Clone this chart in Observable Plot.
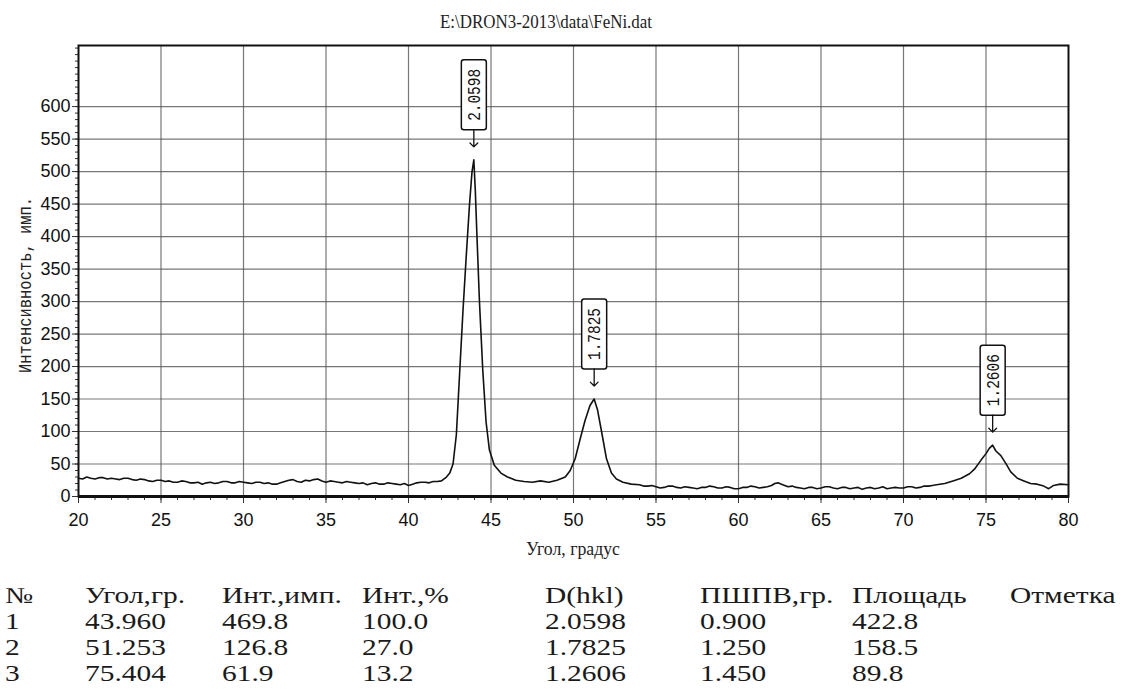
<!DOCTYPE html>
<html><head><meta charset="utf-8">
<script src="https://cdn.jsdelivr.net/npm/d3@7"></script>
<script src="https://cdn.jsdelivr.net/npm/@observablehq/plot@0.6"></script>
<style>
html,body{margin:0;padding:0;background:#fff;}
#wrap{position:relative;width:1126px;height:699px;overflow:hidden;background:#fff;}
#chart{position:absolute;left:0;top:0;}
#overlay{position:absolute;left:0;top:0;pointer-events:none;}
</style></head><body>
<div id="wrap"><div id="chart"></div><svg id="overlay" width="1126" height="699"></svg></div>
<script>
// ---- scan curve, [angle, intensity] pairs ----
const scanLow = [
 [20,28],[20.25,27],[20.5,30],[20.75,28],[21,27],[21.25,29],[21.5,29],[21.75,27],[22,28],[22.25,27],
 [22.5,26],[22.75,28],[23,28],[23.25,26],[23.5,25],[23.75,27],[24,26],[24.25,24],[24.5,23],[24.75,25],
 [25,25],[25.25,23],[25.5,24],[25.75,22],[26,22],[26.25,24],[26.5,23],[26.75,21],[27,21],[27.25,22],
 [27.5,19],[27.75,21],[28,22],[28.25,20],[28.5,21],[28.75,23],[29,23],[29.25,21],[29.5,21],[29.75,23],
 [30,22],[30.25,21],[30.5,20],[30.75,22],[31,22],[31.25,20],[31.5,21],[31.75,19],[32,19],[32.25,21],
 [32.5,23],[32.75,25],[33,26],[33.25,23],[33.5,22],[33.75,25],[34,24],[34.25,26],[34.5,27],[34.75,24],
 [35,22],[35.25,24],[35.5,23],[35.75,22],[36,21],[36.25,23],[36.5,22],[36.75,21],[37,20],[37.25,21],
 [37.5,18],[37.75,20],[38,21],[38.25,19],[38.5,19],[38.75,21],[39,20],[39.25,19],[39.5,18],[39.75,20],
 [40,17],[40.25,19],[40.5,21],[40.75,22],[41,22],[41.25,21],[41.5,23],[41.75,23],[42,24]];
const scanPeak1 = [
 [42.3,30],[42.5,36],[42.7,50],[42.9,95],[43.1,190],[43.3,285],[43.5,370],[43.7,450],[43.85,500],[43.96,518],
 [44.05,470],[44.15,400],[44.3,300],[44.5,195],[44.7,115],[44.9,72],[45.2,48],[45.6,36],[46,30],[46.5,25],
 [47,23],[47.5,22],[48,24],[48.5,22],[49,25]];
const scanPeak2 = [
 [49.5,30],[49.8,40],[50.1,58],[50.4,88],[50.7,117],[51,140],[51.25,150],[51.45,134],[51.7,100],[52,58],
 [52.3,36],[52.6,27],[53,22],[53.5,19]];
const scanMid = [
 [54,18],[54.25,16],[54.5,16],[54.75,17],[55,15],[55.25,13],[55.5,14],[55.75,16],[56,16],[56.25,14],
 [56.5,13],[56.75,15],[57,14],[57.25,13],[57.5,12],[57.75,14],[58,14],[58.25,16],[58.5,15],[58.75,13],
 [59,13],[59.25,15],[59.5,14],[59.75,12],[60,12],[60.25,14],[60.5,14],[60.75,16],[61,15],[61.25,13],
 [61.5,14],[61.75,15],[62,17],[62.2,20],[62.4,21],[62.6,19],[62.8,17],[63,15],[63.25,16],[63.5,14],
 [63.75,13],[64,12],[64.25,14],[64.5,14],[64.75,12],[65,13],[65.25,15],[65.5,15],[65.75,13],[66,12],
 [66.25,14],[66.5,14],[66.75,12],[67,13],[67.25,14],[67.5,11],[67.75,13],[68,14],[68.25,12],[68.5,13],
 [68.75,15],[69,12],[69.25,13],[69.5,14],[69.75,13],[70,13],[70.25,15],[70.5,15],[70.75,13],[71,14],
 [71.25,16],[71.5,16],[71.75,17],[72,18]];
const scanPeak3 = [
 [72.5,20],[73,24],[73.5,28],[74,35],[74.3,42],[74.7,56],[75,66],[75.2,74],[75.4,79],[75.6,70],
 [75.9,63],[76.2,51],[76.5,38],[76.9,28],[77.3,24],[77.7,20],[78.1,19],[78.5,16],[78.8,12],[79.1,17],
 [79.5,19],[80,18]];

// ---- peak table ----
const peakNo = [1, 2, 3];
const peakAngle = [43.960, 51.253, 75.404];
const peakImp = [469.8, 126.8, 61.9];
const peakPct = [100.0, 27.0, 13.2];
const peakD = ["2.0598", "1.7825", "1.2606"];
const peakFwhm = [0.900, 1.250, 1.450];
const peakArea = [422.8, 158.5, 89.8];
const peakTop = [518, 150, 79]; // top of drawn curve at each peak
const tableHeaders = ["№", "Угол,гр.", "Инт.,имп.", "Инт.,%", "D(hkl)", "ПШПВ,гр.", "Площадь", "Отметка"];

// ---- ticks ----
const xTicks = d3.range(20, 81, 5);
const xMinor = d3.range(20, 81, 1);
const yTicks = d3.range(0, 601, 50);
const yMinor = d3.range(0, 691, 10);
const xGrid = d3.range(25, 80, 5);
const yGrid = d3.range(50, 601, 50);

const titleText = "E:\\DRON3-2013\\data\\FeNi.dat";
const xLabel = "Угол, градус";
const yLabel = "Интенсивность, имп.";

const data = [].concat(scanLow, scanPeak1, scanPeak2, scanMid, scanPeak3).map(([a, v]) => ({a, v}));
const peaks = peakAngle.map((a, i) => ({a, top: peakTop[i], d: peakD[i]}));

const boxSymbol = {draw(ctx) {
  const w = 12.5, h = 35, r = 2.5;
  ctx.moveTo(-w + r, -h); ctx.lineTo(w - r, -h); ctx.arcTo(w, -h, w, -h + r, r);
  ctx.lineTo(w, h - r); ctx.arcTo(w, h, w - r, h, r);
  ctx.lineTo(-w + r, h); ctx.arcTo(-w, h, -w, h - r, r);
  ctx.lineTo(-w, -h + r); ctx.arcTo(-w, -h, -w + r, -h, r); ctx.closePath();
}};

const chart = Plot.plot({
  width: 1126, height: 560,
  marginTop: 45, marginLeft: 78, marginRight: 58, marginBottom: 64,
  x: {domain: [20, 80]},
  y: {domain: [0, 694]},
  style: {fontFamily: "'Liberation Sans', Arial, sans-serif", fontSize: "18px", color: "#111", background: "#fff", overflow: "visible"},
  marks: [
    Plot.ruleX(xGrid, {stroke: "#555", strokeOpacity: 0.8, strokeWidth: 1.2}),
    Plot.ruleY(yGrid, {stroke: "#555", strokeOpacity: 0.8, strokeWidth: 1.2}),
    Plot.axisX({ticks: xMinor, tickSize: 4, tickFormat: () => "", label: null, stroke: "#333"}),
    Plot.axisX({ticks: xTicks, tickSize: 7, tickPadding: 10, label: null, stroke: "#333"}),
    Plot.axisY({ticks: yMinor, tickSize: 3, tickFormat: () => "", label: null, stroke: "#333"}),
    Plot.axisY({ticks: yTicks, tickSize: 6, tickPadding: 2, label: null, stroke: "#333"}),
    Plot.line(data, {x: "a", y: "v", stroke: "#111", strokeWidth: 1.6}),
    Plot.frame({stroke: "#111", strokeWidth: 2}),
    Plot.ruleY([0], {stroke: "#111", strokeWidth: 3}),
    Plot.dot(peaks, {x: "a", y: "top", dy: -65, symbol: boxSymbol, fill: "white", stroke: "#111", strokeWidth: 1.5}),
    Plot.text(peaks, {x: "a", y: "top", dy: -65, text: "d", rotate: -90, fontFamily: "'Liberation Mono', monospace", fontSize: 19, fill: "#111"}),
    Plot.vector(peaks, {x: "a", y: "top", dy: -30, length: 17, rotate: 180, anchor: "start", stroke: "#111", strokeWidth: 1.3, r: 4})
  ]
});
document.getElementById("chart").appendChild(chart);
// condense peak-label text to fit inside the boxes
const peakSet = new Set(peakD);
chart.querySelectorAll("text").forEach(t => {
  if (peakSet.has(t.textContent.trim())) {
    t.setAttribute("textLength", 52);
    t.setAttribute("lengthAdjust", "spacingAndGlyphs");
  }
});

// ---- overlay texts ----
const ov = d3.select("#overlay");
ov.append("text").attr("x", 546).attr("y", 28).attr("text-anchor", "middle")
  .attr("font-family", "'Liberation Serif', serif").attr("font-size", 19).attr("fill", "#222")
  .attr("textLength", 212).attr("lengthAdjust", "spacingAndGlyphs").text(titleText);
ov.append("text").attr("x", 573).attr("y", 555).attr("text-anchor", "middle")
  .attr("font-family", "'Liberation Serif', serif").attr("font-size", 19).attr("fill", "#222")
  .attr("textLength", 94).attr("lengthAdjust", "spacingAndGlyphs").text(xLabel);
ov.append("text").attr("transform", "translate(31,285) rotate(-90)").attr("text-anchor", "middle")
  .attr("font-family", "'Liberation Mono', monospace").attr("font-size", 19).attr("fill", "#222")
  .attr("textLength", 176).attr("lengthAdjust", "spacingAndGlyphs").text(yLabel);

const colX = [5, 85, 222, 362, 545, 700, 852, 1010];
const rowY = [603, 629, 655, 681];
const rows = [tableHeaders].concat(peakNo.map((n, i) => [
  String(n), peakAngle[i].toFixed(3), peakImp[i].toFixed(1), peakPct[i].toFixed(1),
  peakD[i], peakFwhm[i].toFixed(3), peakArea[i].toFixed(1), ""
]));
rows.forEach((r, ri) => r.forEach((t, ci) => {
  if (!t) return;
  ov.append("text").attr("transform", `translate(${colX[ci]},${rowY[ri]}) scale(1.28,1)`)
    .attr("font-family", "'Liberation Serif', serif").attr("font-size", 23).attr("fill", "#1a1a1a").text(t);
}));
</script>
</body></html>
